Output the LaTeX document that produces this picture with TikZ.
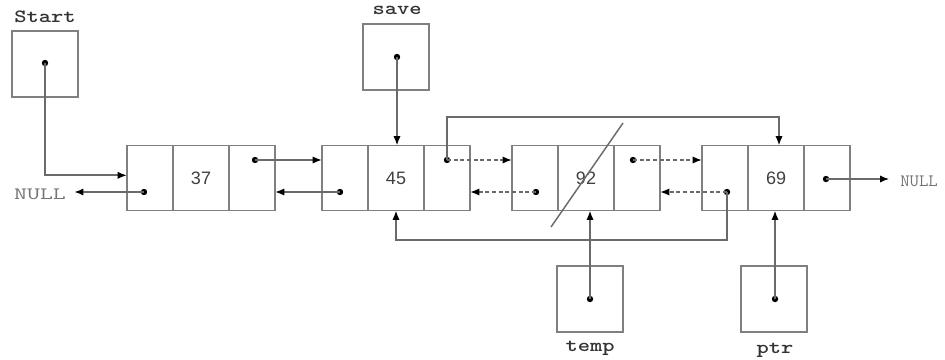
\documentclass[tikz,border=0pt]{standalone}
\usepackage{fontspec}
\usepackage{graphicx}
\usetikzlibrary{arrows.meta}
\newfontfamily\numf{Liberation Sans}
\definecolor{boxc}{HTML}{808080}
\definecolor{linec}{HTML}{6A6A6A}
\tikzset{
  cell/.style={draw=boxc, line width=1.35pt, minimum height=48.75pt, inner sep=0pt, outer sep=0pt, font=\numf\fontsize{13.5}{13.5}\selectfont, text=black!75},
  small/.style={cell, minimum width=34.5pt},
  mid/.style={cell, minimum width=42pt},
  ptrbox/.style={draw=boxc, line width=1.35pt, minimum width=49.5pt, minimum height=49.5pt, inner sep=0pt, outer sep=0pt},
  dot/.style={circle, fill=black, inner sep=0pt, minimum size=4.8pt},
  conn/.style={draw=linec, line width=1.35pt, -{Latex[black,length=7pt,width=5.5pt]}},
  dconn/.style={conn, dash pattern=on 3pt off 2pt},
  plain/.style={draw=linec, line width=1.1pt},
  lab/.style={font=\ttfamily\bfseries\fontsize{14}{14}\selectfont, text=black!80, inner sep=0pt},
  nul/.style={font=\ttfamily\fontsize{13}{13}\selectfont, text=black!55, inner sep=0pt}
}
\begin{document}
\begin{tikzpicture}[x=0.75pt,y=-0.75pt]
\useasboundingbox (0,0) rectangle (945,360);
% list nodes
\node[small] (p1) at (150,178) {};
\node[mid]   (d1) at (201,178) {37};
\node[small] (n1) at (252,178) {};
\node[small] (p2) at (345,178) {};
\node[mid]   (d2) at (396,178) {45};
\node[small] (n2) at (447,178) {};
\node[small] (p3) at (535,178) {};
\node[mid]   (d3) at (586,178) {92};
\node[small] (n3) at (637,178) {};
\node[small] (p4) at (725,178) {};
\node[mid]   (d4) at (776,178) {69};
\node[small] (n4) at (827,178) {};
% pointer boxes
\node[ptrbox] (start) at (45,64) {};
\node[ptrbox] (save) at (396,57) {};
\node[ptrbox] (temp) at (590,299) {};
\node[ptrbox] (ptr) at (774,299) {};
\node[lab] (startl) at (45,17) {\scalebox{1.25}[1]{Start}};
\node[lab] (savel) at (397,10) {\scalebox{1.25}[1]{save}};
\node[lab] (templ) at (590,348) {\scalebox{1.25}[1]{temp}};
\node[lab] (ptrl) at (775,350) {\scalebox{1.25}[1]{ptr}};
\node[nul] (null1) at (40,194) {\scalebox{1.45}[1]{NULL}};
\node[nul, anchor=west] (null2) at (900,181) {\scalebox{1.05}[1]{NULL}};
% dots
\node[dot] (sdot) at (45,63) {};
\node[dot] (svdot) at (397,57) {};
\node[dot] (tdot) at (590,299) {};
\node[dot] (pdot) at (775,299) {};
\node[dot] (p1dot) at (144,192) {};
\node[dot] (n1dot) at (255,160) {};
\node[dot] (p2dot) at (340,192) {};
\node[dot] (n2dot) at (447,160) {};
\node[dot] (p3dot) at (536,192) {};
\node[dot] (n3dot) at (633,160) {};
\node[dot] (p4dot) at (727,192) {};
\node[dot] (n4dot) at (826,179) {};
\coordinate (loopT) at (0,117);
\coordinate (loopB) at (0,240);
\coordinate (slashA) at (551,227);
\coordinate (slashB) at (623,123);
% connectors
\draw[conn] (sdot.center) |- ([yshift=2pt]p1.west);
\draw[conn] (p1dot.center) -- ([xshift=6pt]null1.east |- p1dot);
\draw[conn] (n1dot.center) -- (p2.west |- n1dot);
\draw[conn] (p2dot.center) -- (n1.east |- p2dot);
\draw[conn] (svdot.center) -- (d2.north -| svdot);
\draw[dconn] (n2dot.center) -- (p3.west |- n2dot);
\draw[dconn] (p3dot.center) -- (n2.east |- p3dot);
\draw[dconn] (n3dot.center) -- (p4.west |- n3dot);
\draw[dconn] (p4dot.center) -- (n3.east |- p4dot);
\draw[conn] (n2dot.center) -- (n2dot |- loopT) -| ([xshift=2.25pt]d4.north);
\draw[conn] (p4dot.center) -- (p4dot |- loopB) -| (d2.south);
\draw[conn] (n4dot.center) -- ([xshift=-8pt]null2.west |- n4dot);
\draw[conn] (tdot.center) -- (d3.south -| tdot);
\draw[conn] (pdot.center) -- (d4.south -| pdot);
\draw[plain] (slashA) -- (slashB);
\end{tikzpicture}
\end{document}
